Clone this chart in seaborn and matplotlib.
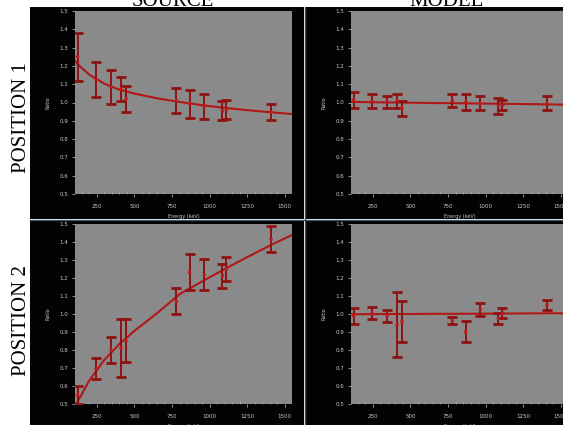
import matplotlib
matplotlib.use("Agg")
import matplotlib.pyplot as plt
from matplotlib.patches import Rectangle
from matplotlib.lines import Line2D
from matplotlib.ticker import MultipleLocator, FormatStrFormatter
import seaborn as sns
import pandas as pd

# ---------------- data ----------------
energies = [121.8, 244.7, 344.3, 411.1, 444.0, 778.9, 867.4, 964.1, 1085.8, 1112.1, 1408.0]

src_p1 = [1.25, 1.126, 1.086, 1.074, 1.02, 1.01, 0.993, 0.979, 0.954, 0.961, 0.948]
src_p1_err = [0.13, 0.098, 0.092, 0.067, 0.07, 0.068, 0.075, 0.068, 0.052, 0.05, 0.046]

src_p2 = [0.55, 0.698, 0.80, 0.81, 0.853, 1.07, 1.232, 1.218, 1.213, 1.25, 1.415]
src_p2_err = [0.05, 0.06, 0.072, 0.16, 0.117, 0.072, 0.099, 0.085, 0.067, 0.065, 0.072]

mod_p1 = [1.015, 1.008, 1.004, 1.009, 0.968, 1.01, 1.002, 0.996, 0.98, 0.985, 0.996]
mod_p1_err = [0.045, 0.04, 0.033, 0.037, 0.042, 0.037, 0.044, 0.037, 0.042, 0.026, 0.037]

mod_p2 = [0.99, 1.005, 0.99, 0.94, 0.958, 0.965, 0.903, 1.026, 0.975, 1.005, 1.05]
mod_p2_err = [0.045, 0.033, 0.033, 0.18, 0.115, 0.02, 0.06, 0.035, 0.03, 0.027, 0.028]

fit_e = [105, 122, 200, 300, 400, 500, 650, 800, 1000, 1200, 1400, 1550]
src_p1_fit = [1.228, 1.21, 1.152, 1.103, 1.070, 1.049, 1.023, 1.003, 0.980, 0.962, 0.947, 0.937]
src_p2_fit = [0.49, 0.512, 0.631, 0.745, 0.833, 0.906, 1.004, 1.11, 1.204, 1.294, 1.38, 1.44]
mod_p1_fit = [1.003, 1.003, 1.002, 1.001, 1.0, 0.999, 0.997, 0.996, 0.994, 0.992, 0.99, 0.988]
mod_p2_fit = [0.999, 0.999, 0.999, 1.0, 1.0, 1.0, 1.001, 1.001, 1.002, 1.003, 1.004, 1.004]

col_titles = ["SOURCE", "MODEL"]
row_titles = ["POSITION 1", "POSITION 2"]
x_ticks = [250, 500, 750, 1000, 1250, 1500]

# ---------------- figure ----------------
W, H = 563, 425
sns.set_style("dark")
plt.rcParams["font.family"] = ["DejaVu Sans"]
fig = plt.figure(figsize=(W / 100, H / 100), dpi=100)
fig.patch.set_facecolor("white")


def rect(x0, y0, x1, y1):
    return [x0 / W, 1 - y1 / H, (x1 - x0) / W, (y1 - y0) / H]


# black frames
for (x0, y0, x1, y1) in [(30, 7, 304, 219), (305, 7, 563, 219),
                         (30, 220, 304, 425), (305, 220, 563, 425)]:
    fig.patches.append(Rectangle((x0 / W, 1 - y1 / H), (x1 - x0) / W, (y1 - y0) / H,
                                 transform=fig.transFigure, facecolor="#030303",
                                 edgecolor="none", zorder=-2))
# thin separators
fig.lines.append(Line2D([304.5 / W, 304.5 / W], [0, 1 - 7 / H], transform=fig.transFigure,
                        color="#3e4e68", lw=1.0, zorder=-1))
fig.lines.append(Line2D([30 / W, 1], [1 - 219.5 / H, 1 - 219.5 / H], transform=fig.transFigure,
                        color="#3e4e68", lw=1.0, zorder=-1))

panels = [
    (rect(75, 11, 292, 194), src_p1, src_p1_err, src_p1_fit),
    (rect(351, 11, 568, 194), mod_p1, mod_p1_err, mod_p1_fit),
    (rect(75, 224, 292, 404), src_p2, src_p2_err, src_p2_fit),
    (rect(351, 224, 568, 404), mod_p2, mod_p2_err, mod_p2_fit),
]

red_bar = "#8e1212"
red_line = "#b01818"
tick_col = "#c8c8c8"

for pos, vals, errs, fitv in panels:
    ax = fig.add_axes(pos)
    ax.set_facecolor("#8a8a8a")
    fit_df = pd.DataFrame({"Energy": fit_e, "Ratio": fitv})
    sns.lineplot(data=fit_df, x="Energy", y="Ratio", ax=ax, color=red_line, lw=1.5, zorder=2)
    ax.errorbar(energies, vals, yerr=errs, fmt="none", ecolor=red_bar, elinewidth=1.4,
                capsize=3.6, capthick=2.0, zorder=3)
    pts_df = pd.DataFrame({"Energy": energies, "Ratio": vals})
    sns.scatterplot(data=pts_df, x="Energy", y="Ratio", ax=ax, color="#c01c1c", s=7,
                    edgecolor="none", zorder=4)
    ax.set_xlim(105, 1548)
    ax.set_ylim(0.5, 1.5)
    ax.set_xticks(x_ticks)
    ax.yaxis.set_major_locator(MultipleLocator(0.1))
    ax.yaxis.set_major_formatter(FormatStrFormatter("%.1f"))
    ax.xaxis.set_minor_locator(MultipleLocator(50))
    ax.tick_params(axis="both", which="major", labelsize=4, colors=tick_col, length=2.0,
                   width=0.5, direction="out")
    ax.tick_params(axis="x", which="major", pad=5.5)
    ax.tick_params(axis="y", which="major", pad=3)
    ax.tick_params(axis="both", which="minor", length=2.0, width=0.4, colors="#b4b4b4",
                   direction="in", bottom=True)
    ax.tick_params(axis="both", which="major", left=True, bottom=True)
    for s in ax.spines.values():
        s.set_visible(False)
    ax.grid(False)
    ax.set_xlabel("Energy (keV)", fontsize=3.5, color=tick_col, labelpad=3)
    ax.set_ylabel("Ratio", fontsize=3.5, color=tick_col, labelpad=6)

# column / row titles
serif = ["Liberation Serif", "DejaVu Serif"]
fig.text(173 / W, 1 - 6 / H, col_titles[0], ha="center", va="baseline", fontsize=15,
         family=serif, color="black")
fig.text(447 / W, 1 - 6 / H, col_titles[1], ha="center", va="baseline", fontsize=15,
         family=serif, color="black")
fig.text(22 / W, 1 - 118 / H, row_titles[0], ha="center", va="center", rotation=90,
         fontsize=15, family=serif, color="black")
fig.text(22 / W, 1 - 321 / H, row_titles[1], ha="center", va="center", rotation=90,
         fontsize=15, family=serif, color="black")

fig.savefig("out.png", dpi=100, facecolor=fig.get_facecolor())
